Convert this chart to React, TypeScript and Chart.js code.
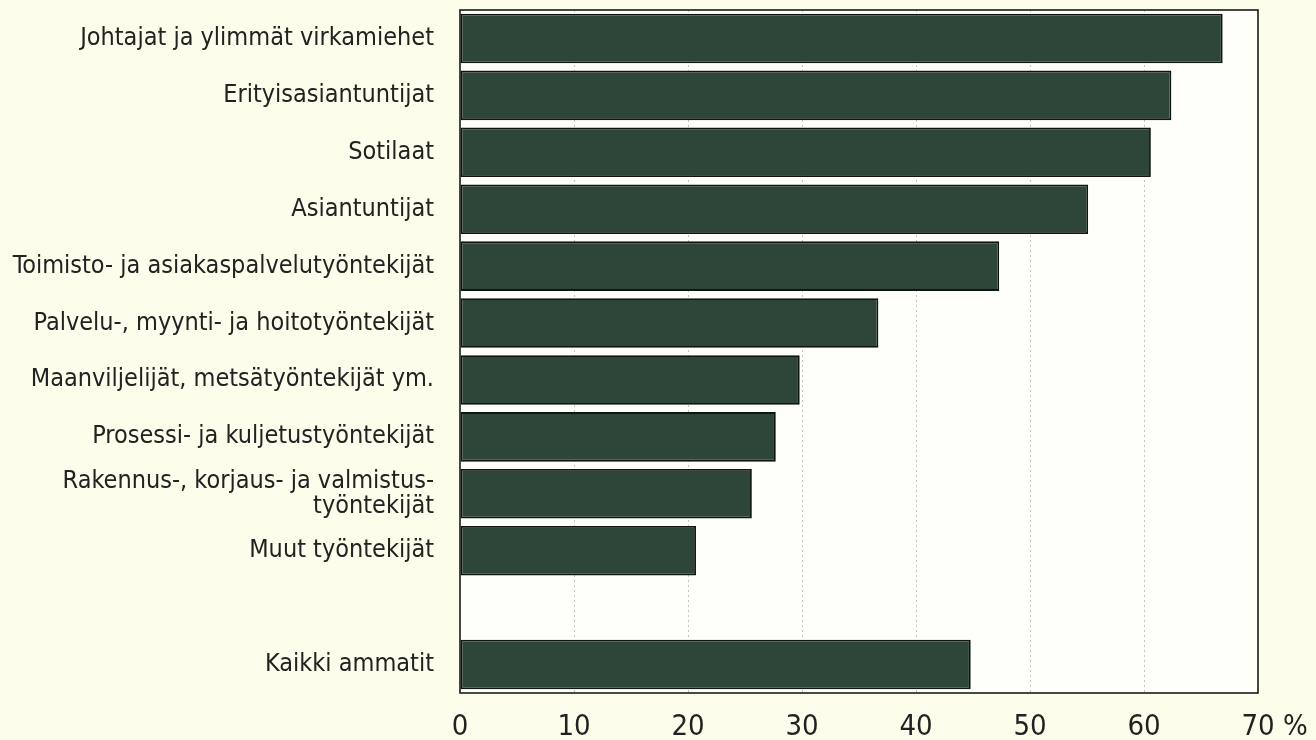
import React, { useEffect, useRef } from "react";
import { Chart, registerables } from "chart.js";
Chart.register(...registerables);

const categories: (string | string[])[] = [
  "Johtajat ja ylimmät virkamiehet",
  "Erityisasiantuntijat",
  "Sotilaat",
  "Asiantuntijat",
  "Toimisto- ja asiakaspalvelutyöntekijät",
  "Palvelu-, myynti- ja hoitotyöntekijät",
  "Maanviljelijät, metsätyöntekijät ym.",
  "Prosessi- ja kuljetustyöntekijät",
  ["Rakennus-, korjaus- ja valmistus-", "työntekijät"],
  "Muut työntekijät",
  "",
  "Kaikki ammatit",
];
const values: (number | null)[] = [66.9, 62.4, 60.6, 55.1, 47.3, 36.7, 29.8, 27.7, 25.6, 20.7, null, 44.8];
const xTicks = [0, 10, 20, 30, 40, 50, 60, 70];

const FONT = "'Liberation Sans Narrow', 'DejaVu Sans Condensed', 'Roboto', sans-serif";

export default function App() {
  const ref = useRef<HTMLCanvasElement>(null);
  useEffect(() => {
    if (!ref.current) return;
    const framePlugin = {
      id: "frame",
      beforeDraw(chart: any) {
        const { ctx, chartArea: a } = chart;
        ctx.save();
        ctx.fillStyle = "#fffffa";
        ctx.fillRect(a.left, a.top, a.right - a.left, a.bottom - a.top);
        ctx.restore();
      },
      afterDraw(chart: any) {
        const { ctx, chartArea: a } = chart;
        ctx.save();
        ctx.strokeStyle = "#1a1a1a";
        ctx.lineWidth = 1.6;
        ctx.strokeRect(a.left, a.top, a.right - a.left, a.bottom - a.top);
        ctx.restore();
      },
    };
    const chart = new Chart(ref.current, {
      type: "bar",
      data: {
        labels: categories,
        datasets: [
          {
            data: values,
            backgroundColor: "#2e4637",
            borderColor: "#111512",
            borderWidth: 1.8,
            borderSkipped: false,
            barPercentage: 0.87,
            categoryPercentage: 1,
          },
        ],
      },
      options: {
        indexAxis: "y",
        animation: false,
        responsive: false,
        maintainAspectRatio: false,
        layout: { padding: { top: 10, right: 58, left: 0, bottom: 0 } },
        plugins: { legend: { display: false }, tooltip: { enabled: false } },
        scales: {
          x: {
            min: 0,
            max: 70,
            afterBuildTicks(scale: any) {
              scale.ticks = xTicks.map((v) => ({ value: v }));
            },
            afterFit(scale: any) {
              scale.height = 47;
              scale.paddingLeft = 0;
              scale.paddingRight = 0;
            },
            border: { display: false, dash: [2, 3] },
            grid: {
              drawTicks: false,
              color: (c: any) => (c.tick && (c.tick.value === 0 || c.tick.value === 70) ? "rgba(0,0,0,0)" : "#c4c4bc"),
              lineWidth: 1,
            },
            ticks: {
              padding: 17,
              autoSkip: false,
              maxRotation: 0,
              color: "#222",
              font: { family: FONT, size: 29 },
              callback: (v: any) => (v === 70 ? "    70 %" : String(v)),
            },
          },
          y: {
            afterFit(scale: any) {
              scale.width = 460;
              scale.paddingTop = 0;
              scale.paddingBottom = 0;
            },
            border: { display: false },
            grid: { display: false, drawTicks: false },
            ticks: {
              padding: 26,
              autoSkip: false,
              color: "#222",
              font: { family: FONT, size: 25, lineHeight: 1.0 },
            },
          },
        },
      },
      plugins: [framePlugin],
    } as any);
    return () => chart.destroy();
  }, []);
  return (
    <div style={{ position: "absolute", left: 0, top: 0, width: 1316, height: 740, background: "#fdfdec" }}>
      <canvas ref={ref} width={1316} height={740} style={{ display: "block" }} />
    </div>
  );
}
